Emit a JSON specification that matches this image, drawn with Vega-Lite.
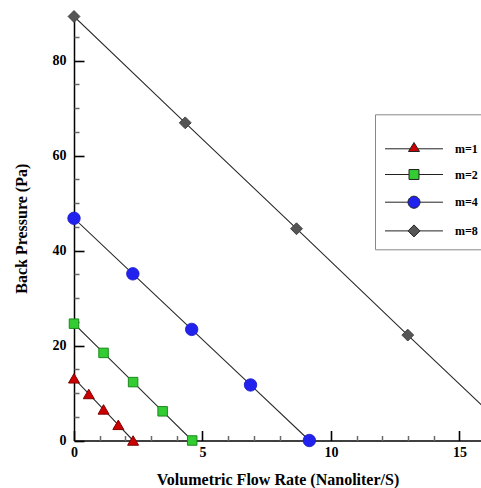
{
  "$schema": "https://vega.github.io/schema/vega-lite/v6.json",
  "width": 407,
  "height": 424.5,
  "autosize": {"type": "none"},
  "padding": {"left": 74, "top": 16, "right": 0, "bottom": 47.5},
  "background": "white",
  "config": {
    "view": {"stroke": null},
    "axis": {
      "grid": false,
      "labelFont": "Liberation Serif, DejaVu Serif, serif",
      "labelFontWeight": "bold",
      "labelFontSize": 14,
      "labelColor": "black",
      "labelFlush": false,
      "titleFont": "Liberation Serif, DejaVu Serif, serif",
      "titleFontWeight": "bold",
      "titleFontSize": 16,
      "titleColor": "black",
      "domainColor": "black",
      "domainWidth": 1.5
    },
    "legend": {
      "labelFont": "Liberation Serif, DejaVu Serif, serif",
      "labelFontWeight": "bold",
      "labelFontSize": 12,
      "labelColor": "black"
    }
  },
  "data": {
    "values": [
      {"series": "m=1", "x": 0, "y": 13.1},
      {"series": "m=1", "x": 0.575, "y": 9.8},
      {"series": "m=1", "x": 1.15, "y": 6.55},
      {"series": "m=1", "x": 1.725, "y": 3.3},
      {"series": "m=1", "x": 2.3, "y": 0},
      {"series": "m=2", "x": 0, "y": 24.6},
      {"series": "m=2", "x": 1.15, "y": 18.45},
      {"series": "m=2", "x": 2.3, "y": 12.3},
      {"series": "m=2", "x": 3.45, "y": 6.15},
      {"series": "m=2", "x": 4.6, "y": 0},
      {"series": "m=4", "x": 0, "y": 46.8},
      {"series": "m=4", "x": 2.29, "y": 35.1},
      {"series": "m=4", "x": 4.58, "y": 23.4},
      {"series": "m=4", "x": 6.87, "y": 11.7},
      {"series": "m=4", "x": 9.16, "y": 0},
      {"series": "m=8", "x": 0, "y": 89.3},
      {"series": "m=8", "x": 4.33, "y": 66.9},
      {"series": "m=8", "x": 8.66, "y": 44.6},
      {"series": "m=8", "x": 12.99, "y": 22.2},
      {"series": "m=8", "x": 17.32, "y": 0}
    ]
  },
  "layer": [
    {
      "mark": {"type": "line", "color": "#2a2a2a", "strokeWidth": 1.1, "clip": true},
      "encoding": {
        "x": {"field": "x", "type": "quantitative", "scale": {"domain": [0, 15.84], "nice": false, "zero": false},
          "axis": {"orient": "bottom", "values": [0, 5, 10, 15], "ticks": false, "labelPadding": 5, "title": "Volumetric Flow Rate (Nanoliter/S)", "titlePadding": 12}},
        "y": {"field": "y", "type": "quantitative", "scale": {"domain": [0, 89.4], "nice": false, "zero": false},
          "axis": {"orient": "left", "values": [0, 20, 40, 60, 80], "ticks": false, "labelPadding": 8, "title": "Back Pressure (Pa)", "titlePadding": 23}},
        "detail": {"field": "series", "type": "nominal"}
      }
    },
    {
      "transform": [{"filter": "datum.series == 'm=1'"}],
      "mark": {"type": "point", "shape": "triangle-up", "filled": true, "fill": "#cc0000", "stroke": "#800000", "strokeWidth": 1, "opacity": 1, "size": 120},
      "encoding": {
        "x": {"field": "x", "type": "quantitative",
          "axis": {"orient": "bottom", "offset": -10, "values": [0, 5, 10, 15], "tickSize": 10, "tickColor": "black", "tickWidth": 1.6, "labels": false, "domain": false, "title": null}},
        "y": {"field": "y", "type": "quantitative",
          "axis": {"orient": "left", "offset": -10, "values": [0, 20, 40, 60, 80], "tickSize": 10, "tickColor": "black", "tickWidth": 1.6, "labels": false, "domain": false, "title": null}}
      }
    },
    {
      "transform": [{"filter": "datum.series == 'm=2'"}],
      "mark": {"type": "point", "shape": "square", "filled": true, "fill": "#33cc33", "stroke": "#1b8a1b", "strokeWidth": 1, "opacity": 1, "size": 90},
      "encoding": {
        "x": {"field": "x", "type": "quantitative",
          "axis": {"orient": "bottom", "offset": -5, "values": [1, 2, 3, 4, 6, 7, 8, 9, 11, 12, 13, 14], "tickSize": 5, "tickColor": "dimgray", "tickWidth": 1.5, "labels": false, "domain": false, "title": null}},
        "y": {"field": "y", "type": "quantitative",
          "axis": {"orient": "left", "offset": -5, "values": [5, 10, 15, 25, 30, 35, 45, 50, 55, 65, 70, 75, 85], "tickSize": 5, "tickColor": "dimgray", "tickWidth": 1.5, "labels": false, "domain": false, "title": null}}
      }
    },
    {
      "transform": [{"filter": "datum.series == 'm=4'"}],
      "mark": {"type": "point", "shape": "circle", "filled": true, "fill": "#2222ee", "stroke": "#1a1ac8", "strokeWidth": 0.8, "opacity": 1, "size": 156},
      "encoding": {
        "x": {"field": "x", "type": "quantitative", "axis": null},
        "y": {"field": "y", "type": "quantitative", "axis": null}
      }
    },
    {
      "transform": [{"filter": "datum.series == 'm=8'"}],
      "mark": {"type": "point", "shape": "diamond", "filled": true, "fill": "#555555", "stroke": "#444444", "strokeWidth": 1, "opacity": 1, "size": 140},
      "encoding": {
        "x": {"field": "x", "type": "quantitative", "axis": null},
        "y": {"field": "y", "type": "quantitative", "axis": null}
      }
    },
    {
      "mark": {"type": "point", "filled": true, "opacity": 0},
      "encoding": {
        "x": {"field": "x", "type": "quantitative", "axis": null},
        "y": {"field": "y", "type": "quantitative", "axis": null},
        "fill": {"field": "series", "type": "nominal",
          "scale": {"domain": ["m=1", "m=2", "m=4", "m=8"], "range": ["#cc0000", "#33cc33", "#2222ee", "#555555"]},
          "legend": {
            "orient": "none", "legendX": 301, "legendY": 98.3,
            "title": " ", "titleFontSize": 12, "titlePadding": 6,
            "padding": 10, "strokeColor": "#888888",
            "symbolSize": 144, "symbolStrokeWidth": 1, "symbolStrokeColor": "#222222",
            "labelOffset": 57, "rowPadding": 11.7,
            "encode": {"symbols": {"update": {"opacity": {"value": 1}, "stroke": {"value": "#222222"}, "strokeWidth": {"value": 1}}}}
          }},
        "shape": {"field": "series", "type": "nominal",
          "scale": {"domain": ["m=1", "m=2", "m=4", "m=8"], "range": [
            "M-1.08,0H3.11M4.39,0H8.58M3.75,-1.05L4.667,0.45L2.833,0.45Z",
            "M-1.08,0H2.92M4.58,0H8.58M2.92,-0.83H4.58V0.83H2.92Z",
            "M-1.08,0H2.75M4.75,0H8.58M4.75,0A1,1,0,1,1,2.75,0A1,1,0,1,1,4.75,0Z",
            "M-1.08,0H2.75M4.75,0H8.58M2.75,0L3.75,-1L4.75,0L3.75,1Z"
          ]},
          "legend": {
            "orient": "none", "legendX": 301, "legendY": 98.3,
            "title": " ", "titleFontSize": 12, "titlePadding": 6,
            "padding": 10, "strokeColor": "#888888",
            "symbolSize": 144, "symbolStrokeWidth": 1, "symbolStrokeColor": "#222222",
            "labelOffset": 57, "rowPadding": 11.7,
            "encode": {"symbols": {"update": {"opacity": {"value": 1}, "stroke": {"value": "#222222"}, "strokeWidth": {"value": 1}}}}
          }}
      }
    }
  ],
  "resolve": {"axis": {"x": "independent", "y": "independent"}}
}
